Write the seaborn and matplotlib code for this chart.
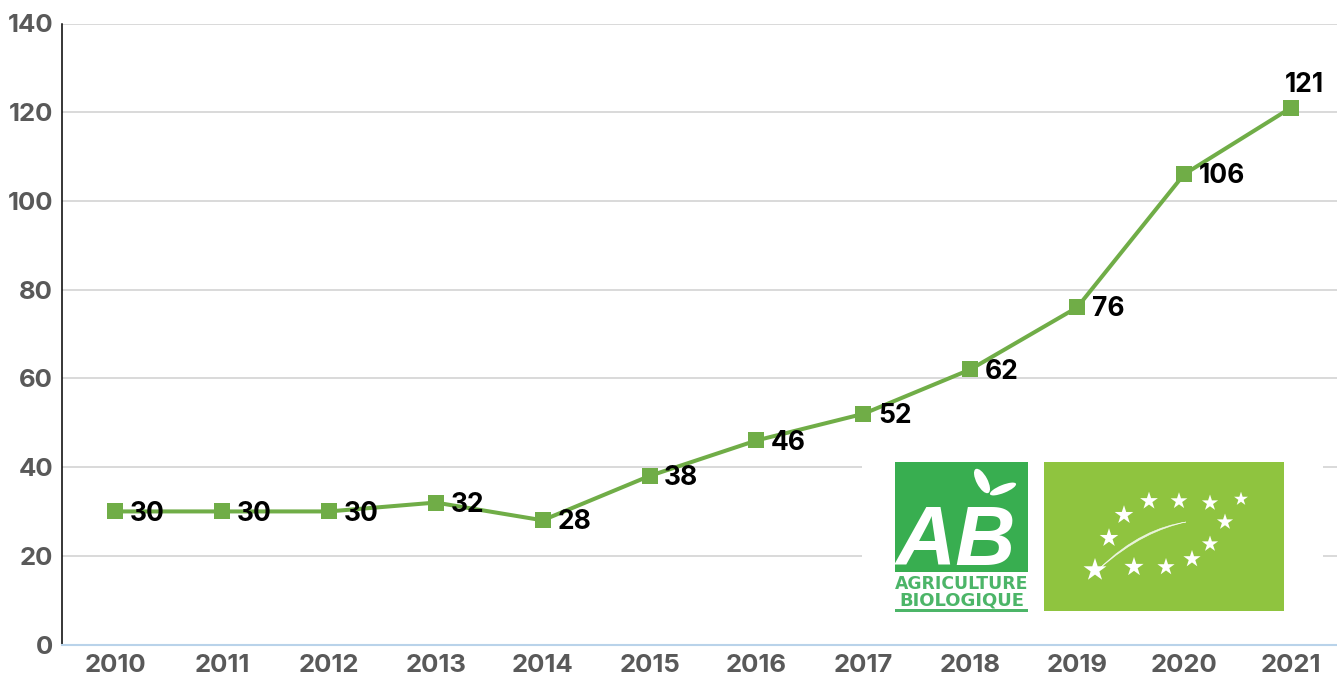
#!/usr/bin/env python3
import matplotlib
matplotlib.use("Agg")
import matplotlib.pyplot as plt
from matplotlib.patches import Ellipse, PathPatch, Rectangle
from matplotlib.path import Path
import pandas as pd
import seaborn as sns

years = [2010, 2011, 2012, 2013, 2014, 2015, 2016, 2017, 2018, 2019, 2020, 2021]
values = [30, 30, 30, 32, 28, 38, 46, 52, 62, 76, 106, 121]
y_ticks = [0, 20, 40, 60, 80, 100, 120, 140]

GREEN = "#70ad47"
GREY = "#595959"
GRID = "#d9d9d9"
AXIS_BLUE = "#b9d3ea"
AB_GREEN = "#38ae50"
EU_GREEN = "#8fc43f"
star_px = [(1095, 570, 300), (1134, 567, 210), (1166, 567, 170), (1192, 559, 170),
           (1210, 544, 150), (1225, 522, 150), (1241, 499, 110), (1210, 503, 150),
           (1179, 501, 160), (1149, 501, 180), (1124, 515, 200), (1109, 538, 200)]

W, H = 1337, 677
LEFT, RIGHT, TOP, BOTTOM = 61.5, 1337, 23.5, 644.5
STEP = (1291 - 115) / 11

sns.set_theme(style="white")
plt.rcParams["font.family"] = ["Inter", "DejaVu Sans"]


def draw_logos(fig) -> None:
    ov = fig.add_axes([0, 0, 1, 1], zorder=5)
    ov.set_xlim(0, W)
    ov.set_ylim(H, 0)
    ov.axis("off")
    ov.patch.set_alpha(0)
    ov.add_patch(Rectangle((862, 455), 461, 157, fc="white", ec="none"))

    ov.add_patch(Rectangle((895, 462), 133, 110, fc=AB_GREEN, ec="none"))
    ov.text(956, 565, "AB", color="white", fontsize=60, ha="center", va="baseline",
            family=["Liberation Sans"], weight="bold", style="italic")
    ov.add_patch(Ellipse((982, 481), 11, 27, angle=-28, fc="white", ec="none"))
    ov.add_patch(Ellipse((1003, 489), 28, 8, angle=-22, fc="white", ec="none"))
    ov.text(961.5, 584, "AGRICULTURE", color="#4cb568", fontsize=12.4, weight="bold",
            ha="center", va="center", family=["DejaVu Sans"])
    ov.text(962, 600.5, "BIOLOGIQUE", color="#4cb568", fontsize=13, weight="bold",
            ha="center", va="center", family=["DejaVu Sans"])
    ov.add_patch(Rectangle((895, 608.5), 133, 3, fc="#4cb568", ec="none"))

    ov.add_patch(Rectangle((1044, 462), 240, 149, fc=EU_GREEN, ec="none"))
    verts = [(1098, 570), (1130, 538), (1160, 526), (1186, 522),
             (1160, 528), (1132, 540), (1098, 570)]
    codes = [Path.MOVETO, Path.CURVE4, Path.CURVE4, Path.CURVE4,
             Path.CURVE4, Path.CURVE4, Path.CURVE4]
    ov.add_patch(PathPatch(Path(verts, codes), fc="white", ec="white", lw=0.4, alpha=0.8))
    ov.scatter([s[0] for s in star_px], [s[1] for s in star_px],
               s=[s[2] for s in star_px], marker="*", color="white", linewidths=0)


def main() -> None:
    df = pd.DataFrame({"year": years, "value": values})
    fig = plt.figure(figsize=(W / 100, H / 100), dpi=100, facecolor="white")
    ax = fig.add_axes([LEFT / W, (H - BOTTOM) / H, (RIGHT - LEFT) / W, (BOTTOM - TOP) / H])

    sns.lineplot(data=df, x="year", y="value", ax=ax, color=GREEN, linewidth=2.9,
                 marker="s", markersize=11.5, markeredgewidth=0, clip_on=False, zorder=3)

    ax.set_xlim(2010 - (115 - LEFT) / STEP, 2021 + (RIGHT - 1291) / STEP)
    ax.set_ylim(0, 140)
    ax.set_xticks(years)
    ax.set_yticks(y_ticks)
    ax.set_xlabel("")
    ax.set_ylabel("")
    ax.tick_params(axis="both", length=0, labelsize=18.5, labelcolor=GREY)
    ax.tick_params(axis="x", pad=6.5)
    ax.tick_params(axis="y", pad=6)
    for lab in ax.get_xticklabels() + ax.get_yticklabels():
        lab.set_fontweight("bold")

    ax.grid(axis="y", color=GRID, linewidth=1.4)
    ax.grid(axis="x", visible=False)
    ax.set_axisbelow(True)
    for side in ["top", "right"]:
        ax.spines[side].set_visible(False)
    ax.spines["left"].set_color("black")
    ax.spines["left"].set_linewidth(1.1)
    ax.spines["bottom"].set_color(AXIS_BLUE)
    ax.spines["bottom"].set_linewidth(1.5)

    for x, v in zip(years, values):
        if x == 2021:
            ax.annotate(str(v), (x, v), xytext=(9.5, 7), textcoords="offset points",
                        ha="center", va="bottom", fontsize=19, weight="bold",
                        color="black", zorder=4)
        else:
            ax.annotate(str(v), (x, v), xytext=(10.5, -1.5), textcoords="offset points",
                        ha="left", va="center", fontsize=19, weight="bold",
                        color="black", zorder=4)

    draw_logos(fig)
    fig.savefig("out.png", dpi=100, facecolor="white")


if __name__ == "__main__":
    main()
